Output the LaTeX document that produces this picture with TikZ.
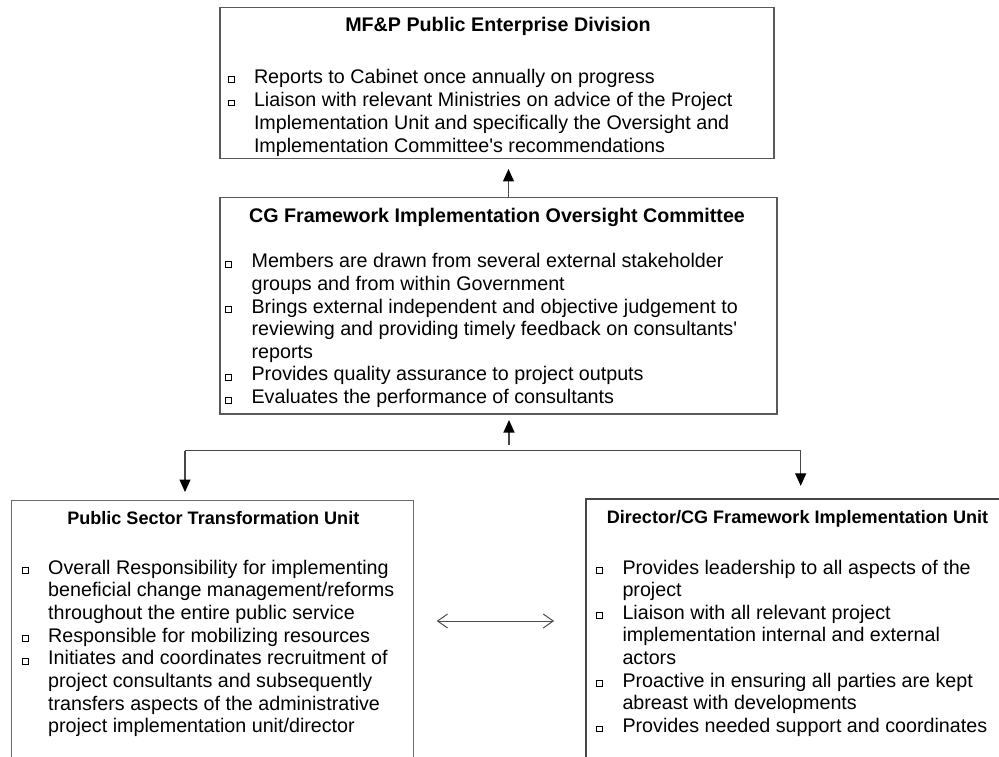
\documentclass[tikz,border=0pt]{standalone}
\usepackage{fontspec}
\setmainfont{Liberation Sans}
\usetikzlibrary{arrows.meta,calc}
\newcommand\sqbul{\raisebox{1.1pt}{\setlength\fboxsep{0pt}\setlength\fboxrule{0.8pt}\fbox{\rule{0pt}{5pt}\rule{5.2pt}{0pt}}}}
\newcommand\BL[1]{\hbox{\llap{\sqbul\hspace{19.5pt}}#1}}
\newcommand\CL[1]{\hbox{#1}}
\tikzset{
  boxnode/.style={draw=black!65, line width=1.4pt, rectangle, inner sep=0pt},
  ttlbig/.style={inner sep=0pt, anchor=base, font=\bfseries\fontsize{19.7}{22.65}\selectfont},
  ttlsmall/.style={inner sep=0pt, anchor=base, font=\bfseries\fontsize{18.06}{20.8}\selectfont},
  lst/.style={inner sep=0pt, anchor=base west, font=\fontsize{19.7}{22.65}\selectfont},
  conn/.style={draw=black!72, line width=1.2pt},
  arrowup/.style={conn, -{Triangle[length=12.5pt,width=11pt,fill=black,color=black]}},
  dblarrow/.style={draw=black!70, line width=1pt, {Straight Barb[length=10pt,width=14pt]}-{Straight Barb[length=10pt,width=14pt]}}
}
\begin{document}
\begin{tikzpicture}[x=1pt,y=-1pt]
\useasboundingbox (0,0) rectangle (999,757);
% boxes
\node[boxnode, minimum width=554pt, minimum height=151pt] (mfp) at (497,82.8) {};
\node[boxnode, minimum width=557pt, minimum height=216.7pt] (ogc) at (498.5,305.65) {};
\node[boxnode, draw=black!58, minimum width=401.6pt, minimum height=319.3pt] (pstu) at (212.5,660.35) {};
\node[boxnode, draw=black!72, line width=1.8pt, minimum width=423pt, minimum height=320.7pt] (dcg) at (797.5,659.65) {};
% titles
\node[ttlbig] (mfpt) at (498,31.5) {MF\&P Public Enterprise Division};
\node[ttlbig] (ogct) at (497,222.4) {CG Framework Implementation Oversight Committee};
\node[ttlsmall] (pstut) at (213.3,524.8) {Public Sector Transformation Unit};
\node[ttlsmall] (dcgt) at (797.5,523.3) {Director/CG Framework Implementation Unit};
% lists
\node[lst] (mfpl) at (253.8,83.4) {\vtop{\baselineskip=23.1pt
  \BL{Reports to Cabinet once annually on progress}
  \BL{Liaison with relevant Ministries on advice of the Project}
  \CL{Implementation Unit and specifically the Oversight and}
  \CL{Implementation Committee\textquotesingle s recommendations}}};
\node[lst] (ogcl) at (251.4,267.7) {\vtop{\baselineskip=22.65pt
  \BL{Members are drawn from several external stakeholder}
  \CL{groups and from within Government}
  \BL{Brings external independent and objective judgement to}
  \CL{reviewing and providing timely feedback on consultants\textquotesingle}
  \CL{reports}
  \BL{Provides quality assurance to project outputs}
  \BL{Evaluates the performance of consultants}}};
\node[lst] (pstul) at (48,574.2) {\vtop{\baselineskip=22.65pt
  \BL{Overall Responsibility for implementing}
  \CL{beneficial change management/reforms}
  \CL{throughout the entire public service}
  \BL{Responsible for mobilizing resources}
  \BL{Initiates and coordinates recruitment of}
  \CL{project consultants and subsequently}
  \CL{transfers aspects of the administrative}
  \CL{project implementation unit/director}}};
\node[lst] (dcgl) at (622.3,574.0) {\vtop{\baselineskip=22.65pt
  \BL{Provides leadership to all aspects of the}
  \CL{project}
  \BL{Liaison with all relevant project}
  \CL{implementation internal and external}
  \CL{actors}
  \BL{Proactive in ensuring all parties are kept}
  \CL{abreast with developments}
  \BL{Provides needed support and coordinates}}};
% connectors
\coordinate (upx) at (508.5,0);
\draw[arrowup, shorten >=10pt] (ogc.north -| upx) -- (mfp.south -| upx);
\coordinate (jn) at (509,450.7);
\coordinate (jl) at (185,450.7);
\coordinate (jr) at (800.7,450.7);
\draw[conn] (jl) -- (jr);
\draw[arrowup, shorten <=5.7pt, shorten >=5.3pt] (jn) -- (ogc.south -| jn);
\draw[arrowup, shorten >=8pt] (jl) -- (pstu.north -| jl);
\draw[arrowup, shorten >=12.6pt] (jr) -- (dcg.north -| jr);
\coordinate (dy) at (0,621);
\draw[dblarrow, shorten <=22.7pt, shorten >=31pt] (pstu.east |- dy) -- (dcg.west |- dy);
\end{tikzpicture}
\end{document}
